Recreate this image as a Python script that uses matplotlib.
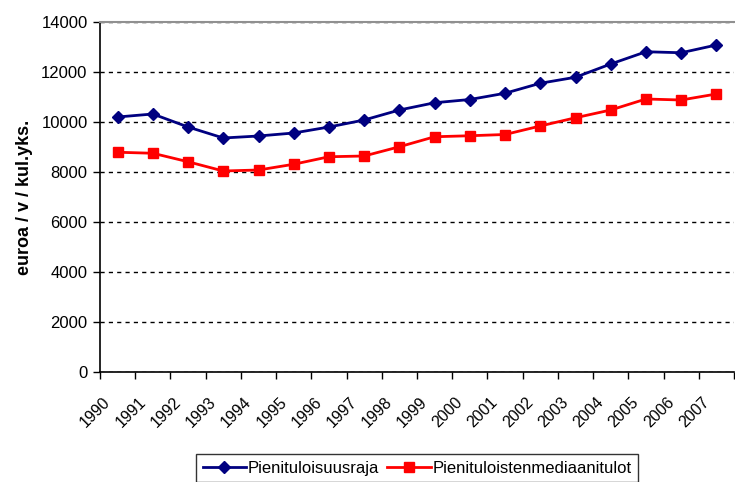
import matplotlib
matplotlib.use("Agg")
import matplotlib.pyplot as plt
import numpy as np

years = ["1990", "1991", "1992", "1993", "1994", "1995", "1996", "1997", "1998",
         "1999", "2000", "2001", "2002", "2003", "2004", "2005", "2006", "2007"]
pienituloisuusraja = [10200, 10320, 9800, 9360, 9440, 9560, 9800, 10080, 10480,
                      10770, 10900, 11150, 11550, 11790, 12320, 12810, 12770, 13080]
mediaanitulot = [8790, 8750, 8410, 8040, 8080, 8310, 8610, 8640, 9010,
                 9410, 9450, 9500, 9840, 10170, 10480, 10920, 10880, 11120]
yticks = [0, 2000, 4000, 6000, 8000, 10000, 12000, 14000]

plt.rcParams['font.family'] = ['Liberation Sans', 'DejaVu Sans']

fig = plt.figure(figsize=(7.35, 4.82), dpi=100)
ax = fig.add_axes([100/735, (482-372)/482, 634/735, 350/482])

x = np.arange(len(years))
l1, = ax.plot(x, pienituloisuusraja, color='#000080', lw=2.0, marker='D',
              markersize=6, label='Pienituloisuusraja')
l2, = ax.plot(x, mediaanitulot, color='#ff0000', lw=2.0, marker='s',
              markersize=6.5, label='Pienituloistenmediaanitulot')

ax.set_xlim(-0.5, len(years) - 0.5)
ax.set_ylim(0, 14000)
ax.set_yticks(yticks)
ax.set_yticklabels([str(v) for v in yticks], fontsize=12)
ax.yaxis.grid(True, linestyle=(0, (3, 3)), color='black', lw=1)
ax.set_axisbelow(True)

ax.set_xticks(np.arange(len(years) + 1) - 0.5)
ax.set_xticklabels([])
# label anchors sit a little left of each category centre, as in the original
ax.set_xticks(x - 0.42, minor=True)
ax.set_xticklabels(years, minor=True, rotation=45, ha='right', va='top',
                   rotation_mode='anchor', fontsize=11.5)
ax.tick_params(axis='x', which='minor', length=0, pad=16)
ax.tick_params(axis='x', which='major', length=5, width=1, direction='out')
ax.tick_params(axis='y', length=5, width=1, direction='out', pad=4)

ax.spines['right'].set_visible(False)
ax.spines['top'].set_color('#909090')
ax.spines['top'].set_linewidth(1.5)
ax.spines['left'].set_linewidth(1.2)
ax.spines['bottom'].set_linewidth(1.2)

ax.set_ylabel('euroa / v / kul.yks.', fontsize=13, fontweight='bold', labelpad=6)

leg = fig.legend(handles=[l1, l2], loc='upper center', ncol=2,
                 bbox_to_anchor=(417/735, 1 - 454/482), frameon=True,
                 fancybox=False, edgecolor='black', fontsize=12,
                 handlelength=2.6, columnspacing=0.5, handletextpad=0.1,
                 borderpad=0.4, borderaxespad=0)
leg.get_frame().set_linewidth(1.0)

fig.savefig('out.png', dpi=100)
